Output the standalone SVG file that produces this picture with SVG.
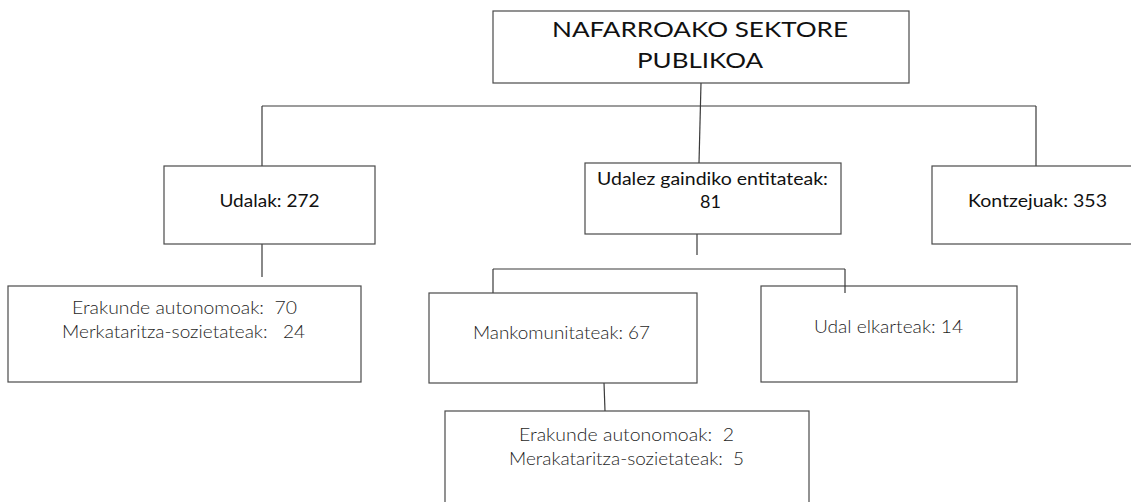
<svg xmlns="http://www.w3.org/2000/svg" width="1131" height="502" viewBox="0 0 1131 502">
<style>
.box{fill:#fff;stroke:#4a4a4a;stroke-width:1.2}
.ln{stroke:#3a3a3a;stroke-width:1.2;fill:none}
.t{font-family:Lato,"Liberation Sans",sans-serif;fill:#111;text-anchor:middle}
.big{font-size:21px}
.mid{font-size:18px}
.lt{font-size:18px;font-weight:300;fill:#1e1e1e}
</style>
<rect width="1131" height="502" fill="#fff"/>
<g id="connectors">
<line class="ln" x1="701" y1="83" x2="699" y2="163"/>
<line class="ln" x1="262" y1="106" x2="1036" y2="106"/>
<line class="ln" x1="262" y1="106" x2="262" y2="166"/>
<line class="ln" x1="1036" y1="106" x2="1036" y2="166"/>
<line class="ln" x1="262" y1="244" x2="262" y2="277"/>
<line class="ln" x1="697" y1="234" x2="697" y2="255"/>
<line class="ln" x1="493" y1="269" x2="845" y2="269"/>
<line class="ln" x1="493" y1="269" x2="493" y2="293"/>
<line class="ln" x1="604" y1="383" x2="605" y2="411"/>
</g>
<g id="top">
<rect class="box" x="493" y="11" width="416" height="72"/>
<text class="t big" x="700" y="37" textLength="296" lengthAdjust="spacingAndGlyphs">NAFARROAKO SEKTORE</text>
<text class="t big" x="700" y="68" textLength="126" lengthAdjust="spacingAndGlyphs">PUBLIKOA</text>
</g>
<g id="udalak">
<rect class="box" x="164" y="166" width="211" height="78"/>
<text class="t mid" x="269.5" y="207" textLength="100" lengthAdjust="spacingAndGlyphs">Udalak: 272</text>
</g>
<g id="udalez">
<rect class="box" x="585" y="163" width="256" height="71"/>
<text class="t mid" x="712.5" y="185" textLength="231" lengthAdjust="spacingAndGlyphs">Udalez gaindiko entitateak:</text>
<text class="t mid" x="710.5" y="208">81</text>
</g>
<g id="kontzejuak">
<rect class="box" x="932" y="166" width="210" height="78"/>
<text class="t mid" x="1037.5" y="207" textLength="139" lengthAdjust="spacingAndGlyphs">Kontzejuak: 353</text>
</g>
<g id="udalak-sub">
<rect class="box" x="8" y="286" width="353" height="96"/>
<text class="t lt" x="184.5" y="314" xml:space="preserve" textLength="225" lengthAdjust="spacingAndGlyphs">Erakunde autonomoak:  70</text>
<text class="t lt" x="183.5" y="338" xml:space="preserve" textLength="243" lengthAdjust="spacingAndGlyphs">Merkataritza-sozietateak:   24</text>
</g>
<g id="mankomunitateak">
<rect class="box" x="429" y="293" width="268" height="90"/>
<text class="t lt" x="561.5" y="339" textLength="177" lengthAdjust="spacingAndGlyphs">Mankomunitateak: 67</text>
</g>
<g id="udal-elkarteak">
<rect class="box" x="761" y="286" width="256" height="96"/>
<text class="t lt" x="888.5" y="333" textLength="149" lengthAdjust="spacingAndGlyphs">Udal elkarteak: 14</text>
</g>
<line class="ln" x1="845" y1="269" x2="845" y2="293"/>
<g id="mank-sub">
<rect class="box" x="445" y="411" width="364" height="100"/>
<text class="t lt" x="626.5" y="441" xml:space="preserve" textLength="215" lengthAdjust="spacingAndGlyphs">Erakunde autonomoak:  2</text>
<text class="t lt" x="626.5" y="465" xml:space="preserve" textLength="235" lengthAdjust="spacingAndGlyphs">Merakataritza-sozietateak:  5</text>
</g>
</svg>
